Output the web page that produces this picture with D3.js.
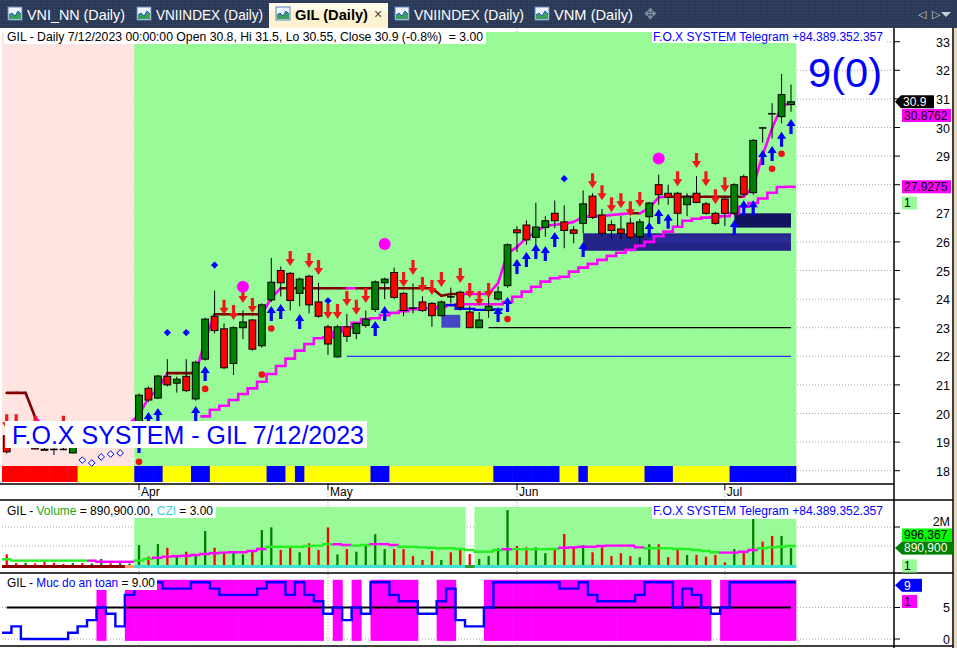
<!DOCTYPE html>
<html>
<head>
<meta charset="utf-8">
<script src="https://cdn.jsdelivr.net/npm/d3@7"></script>
<style>
	body { margin: 0; background: #fff; }
	svg { display: block; font-family: 'Liberation Sans', Arial, sans-serif; }
	text { white-space: pre; }
</style>
</head>
<body>
<div id="root"></div>
<script>
// ---- data (bar index i runs from firstBar; i = 0 is the first April session) ----
const firstBar = -14
const months = ['Apr', 'May', 'Jun', 'Jul']
const monthBars = [0, 20, 40, 62]
const priceTicks = d3.range(18, 34)

const open = [19.22, 19.3, 19.1, 19.3, 18.75, 18.76, 18.76, 18.62, 19.2, 19.1, 19.2, 19.3, 19.2, 19.35,
	19.7, 20.88, 20.54, 21.3, 21.06, 21.3, 20.51, 21.9, 23.4, 22.96,
	21.75, 23.0, 23.27, 22.37, 23.97, 25.0, 24.9, 24.2, 24.8, 23.9,
	23.03, 21.98, 23.03, 22.8, 23.08, 23.64, 24.57, 24.93, 24.2, 23.7,
	23.9, 23.85, 23.42, 24.1, 24.24, 23.55, 23.0, 23.6, 24.0, 24.47,
	26.42, 26.59, 26.16, 26.5, 27.0, 26.7, 26.42, 26.65, 27.6, 26.94,
	26.6, 26.45, 26.66, 26.18, 26.88, 28.0, 27.7, 27.7, 27.3, 27.7,
	27.33, 27.0, 27.5, 27.0, 28.28, 27.72, 30.0, 30.5, 30.38, 30.8]
const high = [19.35, 19.5, 19.3, 19.5, 18.9, 18.78, 19.0, 19.4, 19.4, 19.3, 19.4, 19.5, 19.45, 19.6,
	20.7, 20.95, 21.35, 21.9, 21.29, 21.9, 21.85, 23.35, 24.3, 23.15,
	23.05, 23.6, 23.3, 23.85, 25.44, 25.14, 24.95, 24.75, 24.85, 24.57,
	23.1, 23.1, 23.48, 23.15, 23.6, 24.65, 24.75, 25.1, 24.25, 24.55,
	24.1, 23.9, 23.95, 24.4, 24.3, 23.75, 23.55, 24.15, 24.45, 25.95,
	26.55, 26.75, 27.37, 26.9, 27.45, 27.28, 26.55, 27.8, 27.7, 27.15,
	26.75, 26.9, 26.85, 26.8, 27.4, 28.35, 28.0, 27.75, 27.7, 28.3,
	27.4, 27.05, 27.6, 28.05, 28.35, 29.6, 30.02, 30.85, 31.87, 31.5]
const low = [18.6, 18.9, 18.9, 18.75, 18.72, 18.55, 18.74, 18.6, 19.0, 18.95, 19.0, 19.1, 19.05, 19.2,
	19.6, 20.4, 20.5, 20.95, 20.73, 20.75, 20.45, 21.85, 22.8, 21.55,
	21.35, 22.6, 22.2, 22.3, 23.9, 24.09, 23.6, 23.75, 23.5, 23.35,
	22.05, 21.95, 22.5, 22.6, 23.0, 23.55, 24.0, 24.0, 23.4, 23.5,
	23.55, 23.03, 23.4, 23.85, 23.6, 23.0, 23.0, 23.35, 23.95, 24.4,
	25.65, 25.9, 25.85, 26.18, 26.48, 25.78, 25.95, 26.3, 26.8, 26.2,
	26.1, 26.1, 26.1, 25.95, 26.5, 27.3, 27.3, 26.55, 26.9, 27.35,
	26.95, 26.6, 26.55, 26.95, 27.6, 27.65, 29.47, 29.62, 30.15, 30.55]
const close = [18.66, 19.0, 19.2, 18.76, 18.72, 18.76, 18.76, 19.3, 19.1, 19.2, 19.3, 19.2, 19.35, 19.5,
	20.64, 20.47, 21.31, 21.0, 21.2, 20.8, 21.79, 23.3, 22.9, 21.6,
	23.0, 23.2, 22.25, 23.8, 24.59, 24.57, 23.95, 24.7, 23.8, 23.4,
	22.43, 23.03, 22.7, 23.15, 23.3, 24.6, 24.7, 24.06, 23.6, 23.7,
	23.6, 23.42, 23.9, 24.1, 23.71, 23.0, 23.27, 23.75, 24.25, 25.9,
	26.32, 26.07, 26.52, 26.74, 26.74, 26.4, 26.3, 27.33, 26.86, 26.3,
	26.4, 26.3, 26.16, 26.7, 27.36, 27.65, 27.56, 27.0, 27.58, 27.38,
	27.0, 26.65, 27.0, 28.0, 27.67, 29.55, 30.0, 30.5, 31.15, 30.9]

// volume in millions of shares
const volume = [0.56, 0.1, 0.12, 0.08, 0.17, 0.12, 0.05, 0.1, 0.1, 0.08, 0.32, 0.09, 0.1, 0.08,
	1.05, 0.44, 1.1, 0.91, 0.53, 0.7, 0.56, 1.79, 0.91, 0.7,
	0.67, 0.56, 0.7, 1.84, 1.98, 0.79, 0.91, 0.67, 1.14, 0.79,
	1.98, 0.56, 0.84, 0.7, 1.09, 1.62, 0.84, 0.84, 0.84, 0.47,
	0.26, 0.74, 0.26, 0.67, 0.79, 0.58, 0.32, 0.47, 0.88, 2.89,
	1.0, 0.93, 0.93, 0.62, 0.83, 1.63, 0.93, 1.05, 0.67, 0.93,
	0.47, 0.62, 0.47, 0.41, 1.09, 1.09, 0.41, 0.84, 0.53, 0.53,
	0.44, 0.53, 0.14, 0.84, 0.74, 2.54, 1.23, 1.53, 1.53, 0.8909]
const volumeMa = [0.3, 0.23, 0.23, 0.23, 0.23, 0.23, 0.23, 0.23, 0.23, 0.23, 0.17, 0.17, 0.17, 0.17,
	0.23, 0.32, 0.38, 0.44, 0.46, 0.49, 0.53, 0.58, 0.62, 0.65,
	0.67, 0.67, 0.74, 0.84, 0.96, 0.96, 0.96, 0.96, 1.0, 1.02,
	1.1, 1.09, 1.05, 1.02, 1.05, 1.1, 1.1, 1.05, 0.96, 0.96,
	0.93, 0.91, 0.88, 0.88, 0.84, 0.79, 0.7, 0.7, 0.79, 0.83,
	0.83, 0.83, 0.83, 0.83, 0.84, 0.91, 0.93, 0.96, 0.96, 1.0,
	1.02, 1.02, 1.02, 0.93, 0.88, 0.88, 0.88, 0.84, 0.84, 0.79,
	0.74, 0.67, 0.65, 0.65, 0.7, 0.79, 0.88, 0.93, 0.96, 0.996367]
const maFalling = [[-5, -1], [2, 13], [21, 22], [25, 27], [39, 39], [45, 53], [62, 65]]
const cziRuns = [['dark', 13], ['warm', 1], ['on', 35], ['off', 1], ['on', 34]]

// fast trend line and trailing stop
const trend = [20.72, 20.72, 20.72, 19.88, 19.5, 19.4, 19.35, 19.3, 19.3, 19.3, 19.35, 19.4, 19.5, 19.65,
	19.95, 20.54, 20.85, 21.41, 21.41, 21.41, 21.41, 22.57, 23.47, 23.47,
	23.47, 23.47, 23.47, 23.47, 24.04, 24.38, 24.38, 24.38, 24.38, 24.38,
	24.38, 24.38, 24.38, 24.38, 24.38, 24.38, 24.38, 24.38, 24.38, 24.38,
	24.38, 24.38, 24.12, 24.18, 24.18, 24.18, 24.18, 24.18, 24.56, 25.6,
	25.82, 26.14, 26.35, 26.56, 26.6, 26.63, 26.7, 26.87, 26.9, 26.9,
	26.94, 26.97, 27.0, 27.0, 27.18, 27.56, 27.58, 27.58, 27.58, 27.58,
	27.58, 27.58, 27.58, 27.58, 27.58, 27.93, 29.04, 29.98, 30.73, 30.8762]
const trendFlat = [[-14, -11], [3, 6], [8, 13], [15, 22], [23, 34], [52, 53], [56, 64]]
const stopStart = 7
const stop = [19.9, 20.13, 20.27, 20.47, 20.68, 20.88, 21.11, 21.38, 21.66, 21.92,
	22.2, 22.43, 22.63, 22.66, 22.86, 23.01, 23.17, 23.3, 23.33, 23.44,
	23.52, 23.58, 23.65, 23.68, 23.68, 23.73, 23.79, 23.82, 23.82, 23.82,
	23.82, 23.82, 23.9, 24.08, 24.26, 24.43, 24.61, 24.73, 24.78, 24.96,
	25.1, 25.23, 25.37, 25.51, 25.62, 25.72, 25.86, 26.0, 26.2, 26.36,
	26.53, 26.74, 26.81, 26.85, 26.87, 26.9, 27.0, 27.23, 27.36, 27.52,
	27.72, 27.92, 27.9275]
const supportStart = 33
const support = [23.79, 23.66, 23.66, 23.62, 23.62, 23.64]

// [fromBar, toBar, lowPrice, highPrice]
const zones = [[32, 34, 23.0, 23.45], [47, 69, 25.69, 26.3], [54, 69, 25.97, 26.22], [63, 69, 26.5, 27.0]]
// [fromBar, toBar, price]
const levels = [[37, 69, 23.0], [22, 69, 22.0]]

// signal state band
const bandRuns = [['R', 8], ['Y', 6], ['B', 3], ['Y', 3], ['B', 2], ['Y', 6], ['B', 2], ['Y', 1], ['B', 1],
	['Y', 7], ['B', 2], ['Y', 11], ['B', 7], ['Y', 2], ['B', 1], ['Y', 6], ['B', 3], ['Y', 6], ['B', 7]]

// markers: [bar, price]
const buyArrows = [[0, 19.14], [1, 20.05], [2, 20.19], [6, 20.26], [7, 21.66], [14, 23.76], [15, 23.83], [17, 23.48],
	[25, 23.23], [26, 23.76], [38, 23.72], [39, 24.07], [40, 25.4], [41, 25.65], [42, 25.93], [43, 25.86],
	[44, 26.35], [47, 26.0], [54, 26.7], [55, 27.15], [56, 26.98], [63, 26.77], [64, 27.46], [65, 27.46],
	[66, 29.21], [67, 29.35], [68, 29.85], [69, 30.3]]
const sellArrows = [[-14, 19.45], [-13, 19.45], [-11, 19.4], [-8, 19.4], [9, 23.45], [10, 23.27], [11, 23.86],
	[12, 23.51], [16, 25.16], [18, 25.09], [19, 24.84], [20, 23.3], [21, 23.3], [22, 23.76], [23, 23.45],
	[24, 23.86], [28, 24.42], [29, 24.84], [30, 24.25], [31, 24.14], [32, 24.42], [34, 24.56], [35, 24.04],
	[36, 23.76], [37, 24.04], [48, 27.88], [49, 27.46], [50, 27.04], [51, 27.18], [52, 26.9], [53, 27.22],
	[57, 27.95], [59, 28.58], [60, 27.95], [61, 27.32], [62, 27.74]]
const blueDiamonds = [[3, 22.83], [5, 22.83], [8, 25.19], [20, 23.94], [45, 28.21]]
const hollowDiamonds = [[-6, 18.37], [-5, 18.27], [-4, 18.48], [-3, 18.58], [-2, 18.62]]
const redDots = [[0, 18.31], [7, 20.86], [13, 21.36], [14, 22.97], [39, 23.3], [67, 28.56], [68, 29.08]]
const pinkDots = [[11, 24.43], [26, 25.93], [55, 28.92]]

// safety level (Muc do an toan), 0..9
const safety = [1, 2, 0, 0, 0, 0, 0, 1, 2, 3, 5, 4, 2, 7,
	8, 8, 9, 8, 8, 8, 9, 9, 8, 7,
	7, 7, 7, 8, 9, 9, 7, 9, 7, 6,
	4, 5, 3, 5, 4, 9, 9, 7, 6, 6,
	4, 4, 6, 8, 3, 2, 2, 5, 9, 9,
	9, 9, 9, 9, 9, 8, 8, 9, 7, 6,
	6, 6, 6, 7, 9, 9, 9, 5, 8, 7,
	5, 4, 5, 9, 9, 9, 9, 9, 9, 9]

const tabs = ['VNI_NN (Daily)', 'VNIINDEX (Daily)', 'GIL (Daily)', 'VNIINDEX (Daily)', 'VNM (Daily)']

// ---- layout ----
const C = {
	width: 957,
	height: 648,
	axisX: 894,
	rightX: 953,
	main: { top: 32, bottom: 466, band: 482, axis: 484 },
	vol: { top: 500, bgTop: 507, bottom: 573 },
	safe: { bottom: 646 },
	green: '#98fb98',
	pink: '#ffe4e1',
	magenta: '#ff00ff',
	darkRed: '#800000',
	up: '#008000',
	down: '#ff0000',
	blue: '#0000ff',
	bandColors: { R: '#ff0000', Y: '#ffff00', B: '#0000ff' },
	cziColors: { dark: '#8b0000', warm: '#ffa060', on: '#40e0d0', off: '#30a030' },
	zoneColors: ['#4646c8', '#232388', '#2b2b98', '#12125e'],
	levelColors: ['#000000', '#3030ff'],
	tabX: [8, 137, 276, 395, 535],
	tabW: [98, 107, 73, 110, 79],
}

const bars = open.map((o, k) => ({
	i: k + firstBar,
	o, h: high[k], l: low[k], c: close[k],
	v: volume[k], ma: volumeMa[k], trend: trend[k], safe: safety[k]
}))
const lastBar = bars[bars.length - 1].i

const x = d3.scaleLinear().domain([0, 69]).range([139, 791])
const bw = x(1) - x(0)
const y = d3.scaleLinear().domain([18, 33]).range([470.7, 41.7])
const yVol = d3.scaleLinear().domain([0, 2]).range([565, 527])
const ySafe = d3.scaleLinear().domain([0, 9]).range([639, 582.3])

const svg = d3.select('#root').append('svg')
	.attr('width', C.width)
	.attr('height', C.height)

/* -- tab strip -- */
const defs = svg.append('defs')
const pat = defs.append('pattern')
	.attr('id', 'tabTex').attr('width', 3).attr('height', 3)
	.attr('patternUnits', 'userSpaceOnUse')
pat.append('rect').attr('width', 3).attr('height', 3).attr('fill', '#2b3a57')
pat.append('rect').attr('width', 1).attr('height', 1).attr('fill', '#3a4968')

svg.append('rect')
	.attr('width', C.width).attr('height', 28)
	.attr('fill', 'url(#tabTex)')

svg.append('rect')
	.attr('x', 269).attr('y', 3).attr('width', 119).attr('height', 25)
	.attr('fill', '#fdf3d0')
svg.append('rect')
	.attr('x', 269).attr('y', 3).attr('width', 119).attr('height', 8)
	.attr('fill', '#fffaea')

tabs.forEach((label, t) => {
	const ix = C.tabX[t], active = t === 2
	const icon = svg.append('g').attr('transform', `translate(${ix},7)`)
	icon.append('rect').attr('width', 14).attr('height', 13)
		.attr('fill', '#eef4fb').attr('stroke', '#5b82bd')
	icon.append('path').attr('d', 'M1,12 L1,8 L4,6 L7,9 L10,4 L13,7 L13,12 Z').attr('fill', '#3aa05a')
	icon.append('path').attr('d', 'M1,8 L4,6 L7,9 L10,4 L13,7').attr('fill', 'none').attr('stroke', '#2255cc')

	svg.append('text')
		.attr('x', ix + 19).attr('y', 20)
		.attr('font-size', 14.5)
		.attr('font-weight', active ? 'bold' : 'normal')
		.attr('fill', active ? '#000' : '#fff')
		.attr('textLength', C.tabW[t]).attr('lengthAdjust', 'spacingAndGlyphs')
		.text(label)
})
svg.append('text').attr('x', 374).attr('y', 19).attr('font-size', 14).attr('fill', '#444').text('×')
svg.append('text').attr('x', 644).attr('y', 19).attr('font-size', 15).attr('fill', '#8090a8').text('✥')
svg.append('text').attr('x', 918).attr('y', 18).attr('font-size', 11).attr('fill', '#c8d0dc').text('◁  ▷')
svg.append('path').attr('d', 'M941,12 L951,12 L946,17 Z').attr('fill', '#c8d0dc')

/* -- panes -- */
svg.append('rect')
	.attr('y', 28).attr('width', C.width).attr('height', C.height - 28)
	.attr('fill', '#fff')
svg.append('rect')
	.attr('x', C.rightX + 1).attr('y', 28).attr('width', 3).attr('height', C.height - 28)
	.attr('fill', '#e6d9bb')

const grid = svg.append('g')
	.attr('stroke', '#a8a8a8').attr('stroke-dasharray', '1,2')

grid.selectAll('.hgrid')
	.data(priceTicks)
	.enter()
	.append('line')
	.attr('x1', 2).attr('x2', C.axisX)
	.attr('y1', d => y(d)).attr('y2', d => y(d))

grid.selectAll('.vgrid')
	.data(monthBars)
	.enter()
	.append('line')
	.attr('x1', d => x(d)).attr('x2', d => x(d))
	.attr('y1', 28).attr('y2', C.safe.bottom)

;[1, 2].forEach(v => grid.append('line')
	.attr('x1', 2).attr('x2', C.axisX).attr('y1', yVol(v)).attr('y2', yVol(v)))
;[0, 5].forEach(v => grid.append('line')
	.attr('x1', 2).attr('x2', C.axisX).attr('y1', ySafe(v)).attr('y2', ySafe(v)))

/* -- main pane backgrounds -- */
svg.append('g').selectAll('rect')
	.data(bars)
	.enter()
	.append('rect')
	.attr('x', d => x(d.i) - bw / 2)
	.attr('width', bw + 0.6)
	.attr('y', C.main.top)
	.attr('height', C.main.bottom - C.main.top)
	.attr('fill', d => d.i < 0 ? C.pink : C.green)

const bandState = bandRuns.flatMap(([s, n]) => d3.range(n).map(() => s))
svg.append('g').selectAll('rect')
	.data(bars)
	.enter()
	.append('rect')
	.attr('x', d => x(d.i) - bw / 2)
	.attr('width', bw + 0.6)
	.attr('y', C.main.bottom)
	.attr('height', C.main.band - C.main.bottom)
	.attr('fill', (d, k) => C.bandColors[bandState[k]])

/* -- zones and levels -- */
svg.append('g').selectAll('rect')
	.data(zones)
	.enter()
	.append('rect')
	.attr('x', d => x(d[0]))
	.attr('width', d => x(d[1]) - x(d[0]))
	.attr('y', d => y(d[3]))
	.attr('height', d => y(d[2]) - y(d[3]))
	.attr('fill', (d, k) => C.zoneColors[k])

svg.append('g').selectAll('line')
	.data(levels)
	.enter()
	.append('line')
	.attr('x1', d => x(d[0])).attr('x2', d => x(d[1]))
	.attr('y1', d => y(d[2])).attr('y2', d => y(d[2]))
	.attr('stroke', (d, k) => C.levelColors[k])
	.attr('stroke-width', 1.2)

/* -- trailing stop (step) -- */
const stepLine = d3.line().curve(d3.curveStepAfter)
const stopPts = stop.map((v, k) => [x(stopStart + k) - bw / 2, y(v)])
stopPts.push([x(stopStart + stop.length - 1) + bw / 2, y(stop[stop.length - 1])])
svg.append('path')
	.attr('d', stepLine(stopPts))
	.attr('fill', 'none')
	.attr('stroke', C.magenta)
	.attr('stroke-width', 2.6)

const supPts = support.map((v, k) => [x(supportStart + k) - bw / 2, y(v)])
supPts.push([x(supportStart + support.length - 1) + bw / 2, y(support[support.length - 1])])
svg.append('path')
	.attr('d', stepLine(supPts))
	.attr('fill', 'none')
	.attr('stroke', C.blue)
	.attr('stroke-width', 2.2)

/* -- trend line, dark red where flat -- */
const isFlat = i => trendFlat.some(([a, b]) => i >= a && i + 1 <= b)
svg.append('g').selectAll('line')
	.data(bars.slice(0, -1))
	.enter()
	.append('line')
	.attr('x1', d => x(d.i)).attr('y1', d => y(d.trend))
	.attr('x2', (d, k) => x(bars[k + 1].i)).attr('y2', (d, k) => y(bars[k + 1].trend))
	.attr('stroke', d => isFlat(d.i) ? C.darkRed : C.magenta)
	.attr('stroke-width', 2.6)
	.attr('stroke-linecap', 'round')

/* -- candles -- */
const candle = svg.append('g').selectAll('g')
	.data(bars)
	.enter()
	.append('g')

candle.append('line')
	.attr('x1', d => x(d.i)).attr('x2', d => x(d.i))
	.attr('y1', d => y(d.h)).attr('y2', d => y(d.l))
	.attr('stroke', '#000')

candle.append('rect')
	.attr('x', d => x(d.i) - 3.4)
	.attr('width', 6.8)
	.attr('y', d => y(Math.max(d.o, d.c)))
	.attr('height', d => Math.max(1, Math.abs(y(d.o) - y(d.c))))
	.attr('fill', d => d.c > d.o ? C.up : d.c < d.o ? C.down : '#000')
	.attr('stroke', '#000')
	.attr('stroke-width', d => d.c === d.o ? 0.5 : 1)

/* -- markers -- */
svg.append('g').selectAll('path')
	.data(buyArrows)
	.enter()
	.append('path')
	.attr('d', arrowPath(1))
	.attr('transform', d => `translate(${x(d[0])},${y(d[1])})`)
	.attr('fill', C.blue)

svg.append('g').selectAll('path')
	.data(sellArrows)
	.enter()
	.append('path')
	.attr('d', arrowPath(-1))
	.attr('transform', d => `translate(${x(d[0])},${y(d[1])})`)
	.attr('fill', '#f01818')

svg.append('g').selectAll('path')
	.data(blueDiamonds)
	.enter()
	.append('path')
	.attr('d', 'M0,-3.6 L3.6,0 L0,3.6 L-3.6,0 Z')
	.attr('transform', d => `translate(${x(d[0])},${y(d[1])})`)
	.attr('fill', C.blue)

svg.append('g').selectAll('path')
	.data(hollowDiamonds)
	.enter()
	.append('path')
	.attr('d', 'M0,-3.3 L3.3,0 L0,3.3 L-3.3,0 Z')
	.attr('transform', d => `translate(${x(d[0])},${y(d[1])})`)
	.attr('fill', '#fff')
	.attr('stroke', C.blue)

svg.append('g').selectAll('circle')
	.data(redDots)
	.enter()
	.append('circle')
	.attr('cx', d => x(d[0])).attr('cy', d => y(d[1]))
	.attr('r', 3.3)
	.attr('fill', '#ee1111')

svg.append('g').selectAll('circle')
	.data(pinkDots)
	.enter()
	.append('circle')
	.attr('cx', d => x(d[0])).attr('cy', d => y(d[1]))
	.attr('r', 6)
	.attr('fill', C.magenta)

/* -- main pane texts -- */
svg.append('rect').attr('x', 5).attr('y', 421).attr('width', 362).attr('height', 27).attr('fill', '#fff')
svg.append('text')
	.attr('x', 12).attr('y', 443.5)
	.attr('font-size', 25).attr('fill', C.blue)
	.attr('textLength', 352).attr('lengthAdjust', 'spacingAndGlyphs')
	.text('F.O.X SYSTEM - GIL 7/12/2023')

svg.append('rect').attr('x', 4).attr('y', 28).attr('width', 482).attr('height', 16).attr('fill', '#fff')
svg.append('text')
	.attr('x', 7).attr('y', 40.5)
	.attr('font-size', 12.5)
	.attr('textLength', 476).attr('lengthAdjust', 'spacingAndGlyphs')
	.text('GIL - Daily 7/12/2023 00:00:00 Open 30.8, Hi 31.5, Lo 30.55, Close 30.9 (-0.8%)  = 3.00')

telegram(28, 40.5)

svg.append('text')
	.attr('x', 808).attr('y', 87)
	.attr('font-size', 41).attr('fill', C.blue)
	.attr('textLength', 74).attr('lengthAdjust', 'spacingAndGlyphs')
	.text('9(0)')

/* -- x axis -- */
svg.append('line')
	.attr('x1', 0).attr('x2', C.axisX)
	.attr('y1', C.main.axis).attr('y2', C.main.axis)
	.attr('stroke', '#000').attr('stroke-width', 1.5)

const monthG = svg.append('g').selectAll('g')
	.data(monthBars)
	.enter()
	.append('g')
monthG.append('line')
	.attr('x1', d => x(d)).attr('x2', d => x(d))
	.attr('y1', C.main.axis).attr('y2', C.main.axis + 6)
	.attr('stroke', '#000')
monthG.append('text')
	.attr('x', d => x(d) + 2).attr('y', 496)
	.attr('font-size', 12)
	.text((d, k) => months[k])

/* -- volume pane -- */
svg.append('g').selectAll('rect')
	.data(bars.filter(d => d.i >= 0 && d.i !== 35))
	.enter()
	.append('rect')
	.attr('x', d => x(d.i) - bw / 2)
	.attr('width', bw + 0.6)
	.attr('y', C.vol.bgTop)
	.attr('height', 60)
	.attr('fill', C.green)

const cziState = cziRuns.flatMap(([s, n]) => d3.range(n).map(() => s))
svg.append('g').selectAll('rect')
	.data(bars)
	.enter()
	.append('rect')
	.attr('x', d => x(d.i) - bw / 2)
	.attr('width', bw + 0.6)
	.attr('y', yVol(0))
	.attr('height', 3)
	.attr('fill', (d, k) => C.cziColors[cziState[k]])

svg.append('g').selectAll('rect')
	.data(bars)
	.enter()
	.append('rect')
	.attr('x', d => x(d.i) - 1.15)
	.attr('width', 2.3)
	.attr('y', d => yVol(d.v))
	.attr('height', d => yVol(0) - yVol(d.v))
	.attr('fill', d => d.c > d.o ? C.up : C.down)

const isFalling = i => maFalling.some(([a, b]) => i >= a && i <= b)
svg.append('g').selectAll('path')
	.data(bars)
	.enter()
	.append('path')
	.attr('d', (d, k) => {
		const x0 = x(d.i) - bw / 2, x1 = x(d.i) + bw / 2, yy = yVol(d.ma)
		const prev = k > 0 ? yVol(bars[k - 1].ma) : yy
		return `M${x0},${prev} L${x0},${yy} L${x1},${yy}`
	})
	.attr('fill', 'none')
	.attr('stroke', d => isFalling(d.i) ? C.magenta : '#22ee22')
	.attr('stroke-width', 2.4)

svg.append('rect').attr('x', 5).attr('y', 504).attr('width', 211).attr('height', 14).attr('fill', '#fff')
titleRun(7, 514.5, [
	['GIL - ', '#000'],
	['Volume', '#22aa22'],
	[' = ' + d3.format(',.2f')(volume[volume.length - 1] * 1e6) + ', ', '#000'],
	['CZI', '#40d0d0'],
	[' = 3.00', '#000'],
], 206)

telegram(504, 514.5)

/* -- safety pane -- */
svg.append('g').selectAll('rect')
	.data(bars.filter(d => d.safe >= 5))
	.enter()
	.append('rect')
	.attr('x', d => x(d.i) - bw / 2)
	.attr('width', bw + 0.6)
	.attr('y', d => ySafe(d.i < 0 ? 7.8 : 9.4))
	.attr('height', d => ySafe(-0.3) - ySafe(d.i < 0 ? 7.8 : 9.4))
	.attr('fill', C.magenta)

svg.append('line')
	.attr('x1', x(firstBar)).attr('x2', x(lastBar))
	.attr('y1', ySafe(5)).attr('y2', ySafe(5))
	.attr('stroke', '#000').attr('stroke-width', 2.2)

const safePts = bars.map(d => [x(d.i) - bw / 2, ySafe(d.safe)])
safePts.push([x(lastBar) + bw / 2, ySafe(safety[safety.length - 1])])
svg.append('path')
	.attr('d', stepLine(safePts))
	.attr('fill', 'none')
	.attr('stroke', C.blue)
	.attr('stroke-width', 2.4)

svg.append('rect').attr('x', 5).attr('y', 576).attr('width', 152).attr('height', 14).attr('fill', '#fff')
titleRun(7, 587, [
	['GIL - ', '#000'],
	['Muc do an toan', C.blue],
	[' = ' + d3.format('.2f')(safety[safety.length - 1]), '#000'],
], 148)

/* -- frame lines -- */
const frame = svg.append('g').attr('stroke', '#000').attr('stroke-width', 1.5)
frame.append('line').attr('x1', C.axisX).attr('x2', C.axisX).attr('y1', 28).attr('y2', C.height)
frame.append('line').attr('x1', C.rightX).attr('x2', C.rightX).attr('y1', 28).attr('y2', C.height)
;[C.vol.top, C.vol.bottom, C.safe.bottom].forEach(v => frame.append('line')
	.attr('x1', 0).attr('x2', C.rightX).attr('y1', v).attr('y2', v))

/* -- right axes -- */
const trendTagY = 115.5
const tagYs = [trendTagY, y(stop[stop.length - 1])]
const axisG = svg.append('g').attr('font-size', 12.5)
priceTicks.forEach(p => {
	axisG.append('line').attr('x1', C.axisX).attr('x2', C.axisX + 6)
		.attr('y1', y(p)).attr('y2', y(p)).attr('stroke', '#000')
	// a label fully under a value tag is hidden, as in the platform
	if (tagYs.some(t => Math.abs(t - y(p)) < 8))
		return
	axisG.append('text').attr('x', 950).attr('y', y(p)).attr('dy', '0.4em')
		.attr('text-anchor', 'end').text(p)
})
axisG.append('line').attr('x1', C.axisX).attr('x2', C.axisX + 6)
	.attr('y1', yVol(2)).attr('y2', yVol(2)).attr('stroke', '#000')
axisG.append('text').attr('x', 950).attr('y', yVol(2) - 1.5).attr('text-anchor', 'end').text('2M')
;[0, 5].forEach(v => {
	axisG.append('line').attr('x1', C.axisX).attr('x2', C.axisX + 6)
		.attr('y1', ySafe(v)).attr('y2', ySafe(v)).attr('stroke', '#000')
	axisG.append('text').attr('x', 950).attr('y', ySafe(v)).attr('dy', '0.36em')
		.attr('text-anchor', 'end').text(v)
})

valueTag(y(close[close.length - 1]), '30.9', '#000', '#fff', 901, 33, true)
valueTag(trendTagY, d3.format('.4f')(trend[trend.length - 1]), C.magenta, '#000', 902, 49, false)
valueTag(y(stop[stop.length - 1]), d3.format('.4f')(stop[stop.length - 1]), C.magenta, '#000', 902, 49, false)
valueTag(203, '1', C.green, '#000', 902, 15, false)

valueTag(535, d3.format(',')(Math.round(volumeMa[volumeMa.length - 1] * 1e6)), '#00ff00', '#000', 902, 50, false)
valueTag(yVol(volume[volume.length - 1]), d3.format(',')(Math.round(volume[volume.length - 1] * 1e6)), '#008000', '#fff', 902, 51, true)
valueTag(566, '1', C.green, '#000', 902, 15, false)

valueTag(ySafe(9) + 3, '9', C.blue, '#fff', 902, 20, true)
valueTag(601.5, '1', C.magenta, '#000', 902, 15, false)


/* helper functions */
function arrowPath (dir) {
	// tip at 0,0; dir 1 = body below tip (buy), -1 = body above tip (sell)
	const s = dir
	return `M0,0 L4.6,${7 * s} L1.6,${7 * s} L1.6,${15 * s} L-1.6,${15 * s} L-1.6,${7 * s} L-4.6,${7 * s} Z`
}

function titleRun (x0, baseline, parts, width) {
	// lay coloured pieces side by side, then squeeze to the wanted width
	const g = svg.append('g')
	let cx = 0
	parts.forEach(([txt, col]) => {
		const t = g.append('text')
			.attr('x', cx).attr('y', 0)
			.attr('font-size', 12.5).attr('fill', col)
			.text(txt)
		cx += t.node().getComputedTextLength()
	})
	g.attr('transform', `translate(${x0},${baseline}) scale(${width / cx},1)`)
}

function telegram (top, baseline) {
	svg.append('rect').attr('x', 652).attr('y', top).attr('width', 233).attr('height', 15).attr('fill', '#fff')
	svg.append('text')
		.attr('x', 653).attr('y', baseline)
		.attr('font-size', 12.5).attr('fill', C.blue)
		.attr('textLength', 230).attr('lengthAdjust', 'spacingAndGlyphs')
		.text('F.O.X SYSTEM Telegram +84.389.352.357')
}

function valueTag (cy, label, bg, fg, x0, w, pointer) {
	const g = svg.append('g')
	if (pointer)
		g.append('path')
			.attr('d', `M${C.axisX + 1},${cy} L${x0},${cy - 6.5} L${x0},${cy + 6.5} Z`)
			.attr('fill', bg)
	g.append('rect')
		.attr('x', x0).attr('y', cy - 6.5)
		.attr('width', w).attr('height', 13)
		.attr('fill', bg)
	g.append('text')
		.attr('x', x0 + 2).attr('y', cy).attr('dy', '0.35em')
		.attr('font-size', 12).attr('fill', fg)
		.text(label)
}
</script>
</body>
</html>
